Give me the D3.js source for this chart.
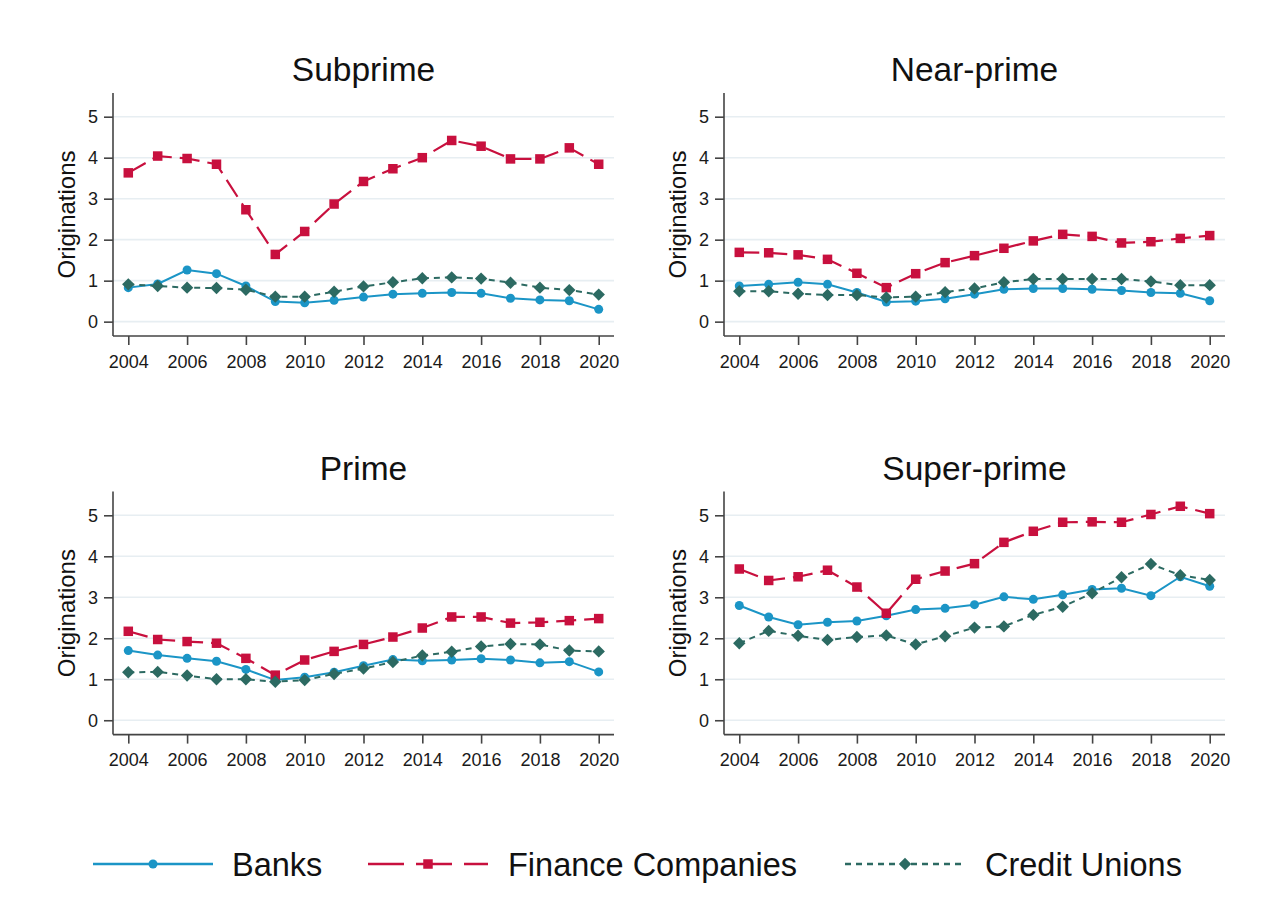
<!DOCTYPE html>
<html><head><meta charset="utf-8">
<script src="https://cdn.jsdelivr.net/npm/d3@7/dist/d3.min.js"></script>
<style>
body{margin:0;background:#fff}
svg{display:block}
text{font-family:"Liberation Sans",Arial,Helvetica,sans-serif}
</style>
</head><body>
<svg id="chart" width="1267" height="922"></svg>
<script>
// ---------- DATA ----------
const years = [2004,2005,2006,2007,2008,2009,2010,2011,2012,2013,2014,2015,2016,2017,2018,2019,2020];
const xTickValues = [2004,2006,2008,2010,2012,2014,2016,2018,2020];
const yTickValues = [0,1,2,3,4,5];
const panelTitles = ["Subprime","Near-prime","Prime","Super-prime"];
const seriesNames = ["Banks","Finance Companies","Credit Unions"];
const yAxisTitle = "Originations";

const subprimeBanks   = [0.83,0.92,1.26,1.17,0.87,0.49,0.46,0.52,0.60,0.67,0.69,0.71,0.69,0.57,0.53,0.51,0.30];
const subprimeFinance = [3.63,4.04,3.98,3.84,2.73,1.64,2.20,2.87,3.42,3.73,4.00,4.42,4.28,3.97,3.97,4.24,3.84];
const subprimeCU      = [0.91,0.87,0.83,0.82,0.78,0.61,0.61,0.73,0.86,0.96,1.06,1.08,1.05,0.95,0.83,0.77,0.66];

const nearBanks   = [0.87,0.91,0.96,0.91,0.71,0.48,0.50,0.56,0.67,0.79,0.81,0.81,0.79,0.76,0.71,0.69,0.51];
const nearFinance = [1.69,1.68,1.63,1.52,1.18,0.83,1.17,1.44,1.61,1.79,1.97,2.13,2.08,1.92,1.95,2.03,2.10];
const nearCU      = [0.74,0.74,0.68,0.65,0.65,0.59,0.61,0.72,0.81,0.96,1.04,1.04,1.04,1.04,0.98,0.89,0.89];

const primeBanks   = [1.70,1.59,1.51,1.44,1.24,0.98,1.05,1.17,1.33,1.48,1.45,1.47,1.50,1.47,1.40,1.43,1.18];
const primeFinance = [2.17,1.97,1.92,1.88,1.51,1.10,1.47,1.68,1.85,2.03,2.25,2.52,2.52,2.37,2.39,2.43,2.48];
const primeCU      = [1.17,1.18,1.09,1.00,1.00,0.94,0.98,1.13,1.26,1.42,1.58,1.67,1.80,1.86,1.85,1.70,1.68];

const superBanks   = [2.80,2.52,2.33,2.39,2.42,2.55,2.70,2.73,2.82,3.01,2.95,3.06,3.19,3.22,3.04,3.50,3.27];
const superFinance = [3.69,3.41,3.50,3.66,3.25,2.61,3.44,3.64,3.82,4.34,4.61,4.83,4.84,4.83,5.02,5.22,5.04];
const superCU      = [1.88,2.18,2.06,1.96,2.03,2.07,1.85,2.05,2.26,2.29,2.57,2.77,3.10,3.49,3.81,3.54,3.42];

const panelData = [
  [subprimeBanks, subprimeFinance, subprimeCU],
  [nearBanks, nearFinance, nearCU],
  [primeBanks, primeFinance, primeCU],
  [superBanks, superFinance, superCU]
];

// ---------- STYLE ----------
const colors = ["#1b95c6", "#c8103e", "#2c6a62"];
const dashes = [null, "20,8", "6,5"];
const widths = [2, 2.2, 2];

const svg = d3.select("#chart");
const plotW = 501, plotH = 243;
const panelPos = [[113, 93], [724, 93], [113, 491.6], [724, 491.6]];

const x = d3.scaleLinear().domain([2003.48, 2020.52]).range([0, plotW]);
const y = d3.scaleLinear().domain([-0.35, 5.578]).range([plotH, 0]);

function drawMarker(g, type, cx, cy, color) {
  if (type === 0) {
    g.append("circle").attr("cx", cx).attr("cy", cy).attr("r", 4.5).attr("fill", color);
  } else if (type === 1) {
    const s = 9.5;
    g.append("rect").attr("x", cx - s/2).attr("y", cy - s/2).attr("width", s).attr("height", s).attr("fill", color);
  } else {
    const d = 6.2;
    g.append("path").attr("d", `M${cx},${cy-d}L${cx+d},${cy}L${cx},${cy+d}L${cx-d},${cy}Z`).attr("fill", color);
  }
}

panelData.forEach((series, pi) => {
  const [px, py] = panelPos[pi];
  const g = svg.append("g").attr("transform", `translate(${px},${py})`);

  // gridlines
  g.selectAll("line.grid").data(yTickValues).enter().append("line")
    .attr("x1", 0).attr("x2", plotW)
    .attr("y1", d => y(d)).attr("y2", d => y(d))
    .attr("stroke", "#e7eef2").attr("stroke-width", 1.6);

  // axes
  const yAxis = d3.axisLeft(y).tickValues(yTickValues).tickSize(9).tickPadding(6).tickFormat(d3.format("d"));
  const xAxis = d3.axisBottom(x).tickValues(xTickValues).tickSize(9).tickPadding(10).tickFormat(d3.format("d"));
  const ya = g.append("g").call(yAxis);
  const xa = g.append("g").attr("transform", `translate(0,${plotH})`).call(xAxis);
  [ya, xa].forEach(a => {
    a.select(".domain").attr("stroke", "#444").attr("stroke-width", 1.6);
    a.selectAll(".tick line").attr("stroke", "#444").attr("stroke-width", 1.6);
    a.selectAll(".tick text").attr("fill", "#1a1a1a").style("font-size", "18px");
  });
  ya.select(".domain").attr("d", `M0,0V${plotH}`);
  xa.select(".domain").attr("d", `M0,0H${plotW}`);

  // title
  g.append("text").attr("x", plotW/2).attr("y", -12).attr("text-anchor", "middle")
    .style("font-size", "33.5px").attr("fill", "#111").text(panelTitles[pi]);

  // y title
  g.append("text").attr("transform", `translate(${-38},${plotH/2}) rotate(-90)`)
    .attr("text-anchor", "middle").style("font-size", "24px").attr("fill", "#111").text(yAxisTitle);

  // lines
  series.forEach((vals, si) => {
    const line = d3.line().x((d, i) => x(years[i])).y(d => y(d));
    g.append("path").datum(vals).attr("d", line).attr("fill", "none")
      .attr("stroke", colors[si]).attr("stroke-width", widths[si])
      .attr("stroke-dasharray", dashes[si]);
    vals.forEach((v, i) => drawMarker(g, si, x(years[i]), y(v), colors[si]));
  });
});

// legend
const legendItems = [
  {x1: 93, x2: 213, tx: 232},
  {x1: 368, x2: 488, tx: 508},
  {x1: 845, x2: 965, tx: 985}
];
const ly = 864;
const lg = svg.append("g");
legendItems.forEach((it, si) => {
  lg.append("line").attr("x1", it.x1).attr("x2", it.x2).attr("y1", ly).attr("y2", ly)
    .attr("stroke", colors[si]).attr("stroke-width", widths[si] + 0.4)
    .attr("stroke-dasharray", si === 1 ? "36,12" : dashes[si]);
  drawMarker(lg, si, (it.x1 + it.x2)/2, ly, colors[si]);
  lg.append("text").attr("x", it.tx).attr("y", ly + 12).style("font-size", "32.5px")
    .attr("fill", "#111").text(seriesNames[si]);
});
</script>
</body></html>
